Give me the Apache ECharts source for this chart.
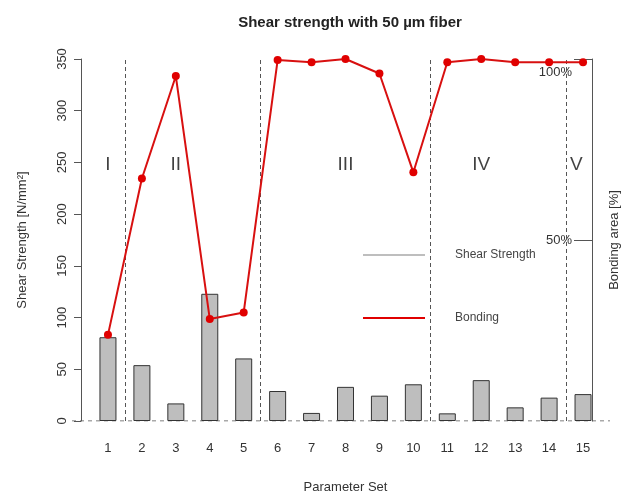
<!DOCTYPE html>
<html>
<head>
<meta charset="utf-8">
<script src="https://cdn.jsdelivr.net/npm/echarts@6/dist/echarts.min.js"></script>
<style>html,body{margin:0;padding:0;background:#fff;}#chart{width:624px;height:495px;}</style>
</head>
<body>
<div id="chart"></div>
<script>
const categories = ['1','2','3','4','5','6','7','8','9','10','11','12','13','14','15'];
const shearStrength = [81, 54, 17, 123, 60.5, 29, 7.8, 33, 24.5, 35.5, 7.4, 39.5, 13.2, 22.6, 26];
const bonding = [23.8, 67.0, 95.3, 28.2, 30.0, 99.7, 99.1, 100, 96.0, 68.7, 99.1, 100, 99.1, 99.1, 99.1];
const groupLabels = ['I', 'II', 'III', 'IV', 'V'];
const groupLabelX = [1, 3, 8, 12, 14.8];
const groupLabelY = 248;
const groupBounds = [1.5, 5.5, 10.5, 14.5];
const leftTicks = [0, 350, 50];
const rightTickValues = [50, 100];

const FONT = '"Liberation Sans", Arial, sans-serif';
const chart = echarts.init(document.getElementById('chart'), null, {renderer: 'canvas'});

const lineData = bonding.map((v, i) => [i + 1, v]);
const textData = groupLabels.map((t, i) => ({value: [groupLabelX[i], groupLabelY], name: t}));

chart.setOption({
  animation: false,
  backgroundColor: '#fff',
  textStyle: {fontFamily: FONT},
  title: {
    text: 'Shear strength with 50 µm fiber',
    left: 345, top: 10, textAlign: 'center',
    textStyle: {fontFamily: FONT, fontSize: 15, fontWeight: 'bold', color: '#222'}
  },
  legend: {
    data: ['Shear Strength', 'Bonding'],
    orient: 'vertical',
    left: 358, top: 244,
    icon: 'rect', itemWidth: 62, itemHeight: 2, itemGap: 51,
    itemStyle: {borderWidth: 0},
    textStyle: {fontFamily: FONT, fontSize: 12, color: '#444', padding: [4, 0, 0, 25]}
  },
  grid: [
    {left: 91, right: 24, top: 59, bottom: 74, containLabel: false, outerBoundsMode: 'none'},
    {left: 72, right: 14, top: 59, bottom: 74, containLabel: false, outerBoundsMode: 'none'}
  ],
  xAxis: [
    {
      type: 'category', data: categories, gridIndex: 0,
      axisLine: {show: false}, axisTick: {show: false},
      axisLabel: {interval: 0, fontSize: 13, color: '#333', margin: 21, fontFamily: FONT},
      name: 'Parameter Set', nameLocation: 'middle', nameGap: 60,
      nameTextStyle: {fontSize: 13, color: '#333', fontFamily: FONT}
    },
    {type: 'value', gridIndex: 0, min: 0.5, max: 15.5, show: false},
    {type: 'value', gridIndex: 1, min: 0, max: 1, show: false}
  ],
  yAxis: [
    {
      type: 'value', gridIndex: 0, position: 'left', offset: 10,
      min: leftTicks[0], max: leftTicks[1], interval: leftTicks[2],
      splitLine: {show: false},
      axisLine: {show: true, lineStyle: {color: '#555', width: 1}},
      axisTick: {show: true, length: 7, lineStyle: {color: '#555'}},
      axisLabel: {rotate: 90, fontSize: 13, color: '#333', margin: 12, fontFamily: FONT},
      name: 'Shear Strength [N/mm²]', nameLocation: 'middle', nameGap: 52, nameRotate: 90,
      nameTextStyle: {fontSize: 13, color: '#333', fontFamily: FONT}
    },
    {
      type: 'value', gridIndex: 0, position: 'right', offset: -8,
      min: 0, max: 100, interval: 50,
      splitLine: {show: false},
      axisLine: {show: true, lineStyle: {color: '#555', width: 1}},
      axisTick: {show: true, inside: true, length: 18, customValues: rightTickValues, lineStyle: {color: '#555'}},
      axisLabel: {
        inside: true, margin: 20, fontSize: 13, color: '#333', fontFamily: FONT,
        customValues: rightTickValues,
        formatter: v => v === 100 ? '{low|100%}' : v + '%',
        rich: {low: {padding: [26, 0, 0, 0], fontSize: 13, color: '#333', fontFamily: FONT}}
      },
      name: 'Bonding area [%]', nameLocation: 'middle', nameGap: 16, nameRotate: 90,
      nameTextStyle: {fontSize: 13, color: '#333', fontFamily: FONT}
    },
    {type: 'value', gridIndex: 1, min: 0, max: 350, show: false}
  ],
  series: [
    {
      name: 'zero', type: 'line', xAxisIndex: 2, yAxisIndex: 2,
      data: [[0, 0], [1, 0]], symbol: 'none', silent: true,
      lineStyle: {color: '#555', width: 1, type: [4, 4]}, z: 1
    },
    {
      name: 'Shear Strength', type: 'bar', xAxisIndex: 0, yAxisIndex: 0,
      data: shearStrength, barWidth: 17,
      itemStyle: {color: '#bebebe', borderColor: '#333', borderWidth: 1},
      z: 2
    },
    {
      name: 'groups', type: 'scatter', xAxisIndex: 1, yAxisIndex: 0,
      data: textData, symbolSize: 0, silent: true,
      label: {show: true, position: 'inside', formatter: p => p.name, fontSize: 19, color: '#111', fontFamily: FONT, textBorderWidth: 0},
      markLine: {
        silent: true, symbol: 'none', label: {show: false},
        lineStyle: {color: '#555', width: 1, type: [4, 3]},
        data: groupBounds.map(b => ({xAxis: b}))
      }
    },
    {
      name: 'Bonding', type: 'line', xAxisIndex: 1, yAxisIndex: 1,
      data: lineData, symbol: 'circle', symbolSize: 8,
      itemStyle: {color: '#e00000'},
      lineStyle: {color: '#d81010', width: 2},
      z: 5
    }
  ]
});
</script>
</body>
</html>
